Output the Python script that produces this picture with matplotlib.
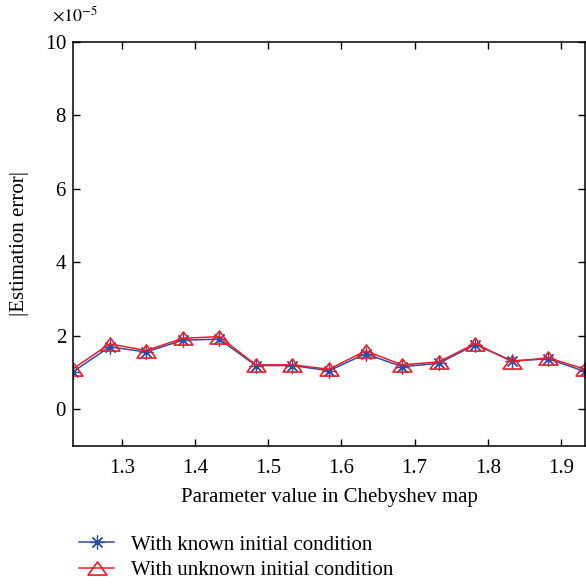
import matplotlib
matplotlib.use("Agg")
import matplotlib.pyplot as plt
from matplotlib.path import Path
import numpy as np

x_param = [1.233, 1.283, 1.333, 1.383, 1.433, 1.483, 1.533, 1.583,
           1.633, 1.683, 1.733, 1.783, 1.833, 1.883, 1.933]
err_known = [1.02, 1.70, 1.56, 1.88, 1.91, 1.19, 1.19, 1.05,
             1.51, 1.16, 1.25, 1.76, 1.32, 1.37, 1.03]
err_unknown = [1.10, 1.78, 1.60, 1.93, 1.98, 1.21, 1.21, 1.09,
               1.59, 1.21, 1.29, 1.79, 1.30, 1.40, 1.09]
scale = 1e-5
err_known = [v * scale for v in err_known]
err_unknown = [v * scale for v in err_unknown]

plt.rcParams['font.family'] = ['Liberation Serif', 'DejaVu Serif']
plt.rcParams['mathtext.fontset'] = 'stix'

fig = plt.figure(figsize=(5.86, 5.84), dpi=100)
ax = fig.add_axes([73/586, 1-446/584, (585-73)/586, (446-42)/584])

wide_tri = Path([(0, 0.7), (-1, -0.7), (1, -0.7), (0, 0.7)],
                [Path.MOVETO, Path.LINETO, Path.LINETO, Path.CLOSEPOLY])

blue = '#2d4ea6'
red = '#ee1d26'
l1, = ax.plot(x_param, err_known, color=blue, lw=1.1, marker=(8, 2, 0),
              ms=10, mew=0.9, label='With known initial condition')
l2, = ax.plot(x_param, err_unknown, color=red, lw=1.1, marker=wide_tri,
              ms=13.5, mfc='none', mec=red, mew=1.2,
              label='With unknown initial condition')

ax.set_xlim(1.233, 1.933)
ax.set_ylim(-1e-5, 10e-5)
ax.set_xticks([1.3, 1.4, 1.5, 1.6, 1.7, 1.8, 1.9])
ax.set_yticks([0, 2e-5, 4e-5, 6e-5, 8e-5, 10e-5])
ax.ticklabel_format(axis='y', style='sci', scilimits=(-5, -5), useMathText=True)
ax.yaxis.get_offset_text().set_visible(False)
fig.text(52/586, 1-21/584, r'$\times10^{-5}$', fontsize=13, ha='left', va='baseline')
ax.tick_params(direction='in', length=5, width=1, top=True, right=True,
               labelsize=15, color='black')
ax.tick_params(axis='x', pad=9.5)
ax.tick_params(axis='y', pad=4.5)
for s in ax.spines.values():
    s.set_linewidth(1.1)

ax.set_xlabel('Parameter value in Chebyshev map', fontsize=15, labelpad=7)
ax.set_ylabel('|Estimation error|', fontsize=15, labelpad=11.5)

fig.legend(handles=[l1, l2], loc='upper left', bbox_to_anchor=(79/586, 1-535/584),
           frameon=False, fontsize=15, handlelength=1.7, handletextpad=0.8,
           labelspacing=0.3, borderaxespad=0, borderpad=0)

fig.savefig('out.png', dpi=100)
